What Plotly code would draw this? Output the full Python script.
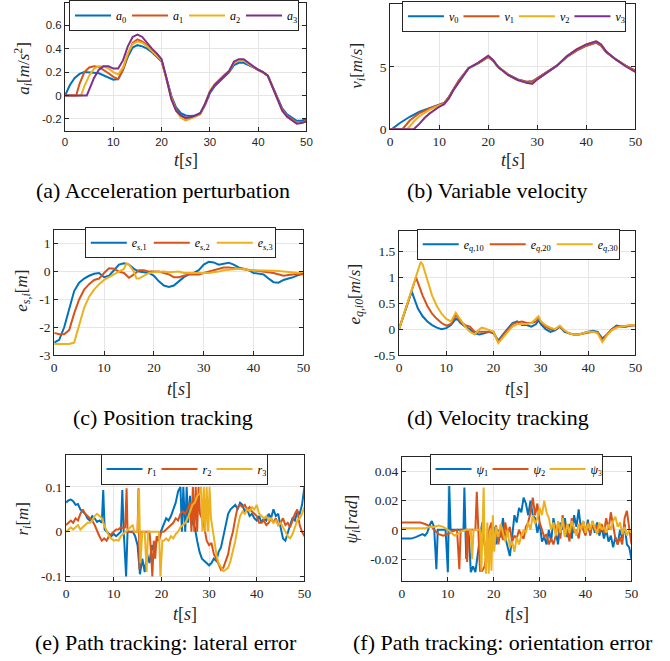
import plotly.graph_objects as go

W, H = 670, 661
C = ['#0072BD', '#D95319', '#EDB120', '#7E2F8E']

# ---------------- data (a) acceleration ----------------
A_T0 = [0,1,2,3,4,5,6,7,8,9,10,11,12,13,14,15,16,17,18,19,20,21,22,23,24,25,26,27,28,29,30,31,32,33,34,35,36,37,38,39,40,41,42,43,44,45,46,47,48,49,50]
A0 = [0,0.09,0.15,0.185,0.2,0.2,0.195,0.19,0.17,0.15,0.135,0.14,0.22,0.33,0.41,0.43,0.42,0.40,0.37,0.33,0.29,0.15,0.0,-0.1,-0.15,-0.17,-0.175,-0.17,-0.15,-0.08,0.02,0.08,0.12,0.16,0.2,0.26,0.28,0.28,0.26,0.24,0.22,0.2,0.17,0.08,-0.02,-0.11,-0.16,-0.19,-0.215,-0.215,-0.2]
A_T1 = [0,2.3,3,4,5,6,7,8,9,10,11,12,13,14,15,16,17,18,19,20,21,22,23,24,25,26,27,28,29,30,31,32,33,34,35,36,37,38,39,40,41,42,43,44,45,46,47,48,49,50]
A1 = [0,0,0.1,0.2,0.24,0.25,0.245,0.22,0.19,0.16,0.14,0.22,0.35,0.45,0.48,0.46,0.43,0.39,0.34,0.3,0.15,-0.01,-0.12,-0.17,-0.2,-0.19,-0.175,-0.16,-0.08,0.03,0.09,0.13,0.17,0.21,0.28,0.3,0.3,0.27,0.245,0.22,0.2,0.17,0.07,-0.03,-0.12,-0.17,-0.2,-0.23,-0.23,-0.215]
A_T2 = [0,3.3,4,5,6,7,8,9,10,11,12,13,14,15,16,17,18,19,20,21,22,23,24,25,26,27,28,29,30,31,32,33,34,35,36,37,38,39,40,41,42,43,44,45,46,47,48,49,50]
A2 = [0,0,0.08,0.17,0.23,0.25,0.25,0.23,0.2,0.18,0.24,0.36,0.44,0.46,0.45,0.42,0.38,0.34,0.3,0.14,-0.02,-0.13,-0.19,-0.215,-0.2,-0.18,-0.16,-0.07,0.04,0.1,0.14,0.18,0.21,0.28,0.3,0.3,0.27,0.245,0.22,0.2,0.17,0.07,-0.03,-0.13,-0.18,-0.21,-0.235,-0.235,-0.22]
A_T3 = [0,4.5,5,6,7,8,9,10,11,12,13,14,15,16,17,18,19,20,21,22,23,24,25,26,27,28,29,30,31,32,33,34,35,36,37,38,39,40,41,42,43,44,45,46,47,48,49,50]
A3 = [0,0,0.05,0.15,0.22,0.25,0.25,0.23,0.23,0.3,0.42,0.5,0.52,0.5,0.45,0.40,0.36,0.31,0.15,-0.03,-0.13,-0.17,-0.19,-0.185,-0.17,-0.15,-0.07,0.03,0.09,0.13,0.17,0.21,0.29,0.31,0.31,0.28,0.25,0.22,0.2,0.17,0.07,-0.03,-0.13,-0.18,-0.21,-0.24,-0.235,-0.22]

# ---------------- data (b) velocity ----------------
V_TAIL_T = [11,12,13,14,16,18,20,21,22,24,26,28,29,30,32,34,36,38,40,42,43,44,46,48,50]
V0_TAIL = [2.1,2.6,3.3,3.9,4.9,5.3,5.8,5.5,5.0,4.4,4.0,3.8,3.85,4.1,4.6,5.1,5.8,6.3,6.7,6.95,6.7,6.2,5.6,5.1,4.7]
V3_TAIL = [2.0,2.5,3.2,3.8,4.9,5.35,5.9,5.55,5.0,4.35,3.95,3.7,3.65,4.0,4.55,5.1,5.85,6.4,6.8,7.05,6.8,6.25,5.6,5.05,4.6]
V0_HEAD_T = [0,0.5,2,4,6,8,10]
V0_HEAD = [0,0.05,0.5,1.0,1.4,1.7,1.95]
V1_HEAD_T = [0,2.5,4,6,8,10]
V1_HEAD = [0,0,0.7,1.3,1.65,1.95]
V2_HEAD_T = [0,3.5,5,6,8,10]
V2_HEAD = [0,0,0.7,1.05,1.55,1.9]
V3_HEAD_T = [0,4.8,6,7,8,9,10]
V3_HEAD = [0,0,0.45,0.9,1.25,1.55,1.8]

# ---------------- data (c) position error ----------------
ES_T = list(range(0, 51))
ES1 = [-2.55,-2.45,-2.0,-1.3,-0.7,-0.4,-0.25,-0.15,-0.08,-0.05,-0.2,-0.15,0.05,0.25,0.3,0.25,0.1,0.0,-0.02,-0.05,-0.15,-0.35,-0.5,-0.55,-0.5,-0.35,-0.2,-0.1,-0.05,0.05,0.25,0.35,0.33,0.25,0.28,0.32,0.25,0.15,0.1,0.05,-0.05,-0.08,-0.1,-0.25,-0.38,-0.4,-0.3,-0.25,-0.2,-0.12,-0.08]
ES2 = [-2.2,-2.25,-2.25,-2.1,-1.5,-1.0,-0.65,-0.45,-0.3,-0.25,-0.05,0.12,0.1,0.0,-0.05,-0.22,-0.1,0.05,0.05,0.0,0.0,0.0,-0.05,-0.1,-0.2,-0.2,-0.15,-0.1,-0.1,-0.1,-0.05,0.0,0.05,0.1,0.15,0.15,0.13,0.1,0.1,0.08,0.05,0.02,0.0,-0.02,-0.05,-0.1,-0.15,-0.12,-0.1,-0.08,-0.1]
ES3_T = [0,1,2,3,4,5,6,7,8,9,10,11,12,13,14,14.5,15,16,16.5,17,18,19,20,21,22,23,24,25,26,27,28,29,30,31,32,33,34,35,36,37,38,39,40,41,42,43,44,45,46,47,48,49,50]
ES3 = [-2.6,-2.6,-2.6,-2.6,-2.55,-1.9,-1.3,-0.9,-0.65,-0.45,-0.3,-0.2,-0.1,0.0,0.1,0.3,0.25,0.0,-0.25,-0.25,-0.15,-0.05,-0.02,0.0,0.0,-0.02,0.0,0.0,-0.05,-0.05,-0.05,-0.05,-0.05,-0.05,-0.02,0.0,0.05,0.07,0.1,0.1,0.1,0.05,0.05,0.05,0.05,0.05,0.03,0.02,0.0,-0.03,-0.05,-0.05,0.0]

# ---------------- data (d) velocity error ----------------
EQ1_T = [0,2.7,3,4,5,6,7,8,9,10,11,12,12.5,13,14,15,16,17,18,19,20,21,22,23,24,25,26,27,28,29,29.5,30,31,32,33,34,35,36,37,38,39,40,41,42,43,44,45,46,47,48,49,50]
EQ1 = [0,0.73,0.65,0.4,0.25,0.15,0.08,0.03,0.0,0.02,0.08,0.2,0.18,0.12,0.05,0.0,-0.08,-0.1,-0.08,-0.05,-0.08,-0.22,-0.1,0.0,0.12,0.15,0.08,0.08,0.05,0.1,0.18,0.1,0.0,-0.05,-0.02,0.05,-0.05,-0.08,-0.1,-0.1,-0.07,-0.05,-0.03,-0.05,-0.18,-0.1,0.0,0.07,0.05,0.05,0.07,0.08]
EQ2_T = [0,3.6,4,5,6,7,8,9,10,11,12,13,14,15,16,17,18,19,20,21,22,23,24,25,26,27,28,29,29.5,30,31,32,33,34,35,36,37,38,39,40,41,42,43,44,45,46,47,48,49,50]
EQ2 = [0,1.0,0.9,0.65,0.45,0.3,0.2,0.12,0.07,0.1,0.28,0.15,0.08,0.05,-0.05,-0.05,-0.05,-0.05,-0.05,-0.25,-0.12,-0.02,0.1,0.13,0.15,0.12,0.12,0.15,0.22,0.15,0.05,0.0,0.0,0.05,-0.03,-0.08,-0.1,-0.1,-0.08,-0.06,-0.05,-0.06,-0.22,-0.1,0.0,0.05,0.05,0.06,0.07,0.07]
EQ3_T = [0,4.6,5,6,7,8,9,10,11,12,13,14,15,16,17,17.5,18,19,20,21,22,23,24,25,26,27,28,29,29.5,30,31,32,33,34,35,36,37,38,39,40,41,42,43,44,45,46,47,48,49,50]
EQ3 = [0,1.3,1.25,0.95,0.65,0.45,0.3,0.2,0.15,0.32,0.18,0.05,-0.05,-0.1,0.0,0.03,0.02,-0.02,-0.05,-0.27,-0.15,-0.05,0.05,0.1,0.1,0.1,0.12,0.2,0.25,0.15,0.08,0.03,0.0,0.07,-0.02,-0.08,-0.1,-0.1,-0.08,-0.05,-0.05,-0.08,-0.25,-0.12,-0.02,0.03,0.05,0.07,0.08,0.08]

# ---------------- data (e) lateral error (t, r) ----------------
R1_PTS = [(0,0.065),(0.5,0.07),(1,0.072),(1.5,0.068),(2,0.06),(2.5,0.062),(3,0.05),(3.5,0.045),(4,0.04),(4.5,0.03),(5,0.025),(5.5,0.035),(6,0.03),(6.5,0.022),(7,0.025),(7.5,0.02),(7.8,0.093),(8.1,0.005),(8.5,0.0),(9,-0.005),(9.5,-0.01),(10,-0.005),(10.5,-0.01),(11,-0.005),(11.5,0.0),(11.8,0.093),(12.1,0.0),(12.6,-0.1),(12.9,0.0),(13.5,0.0),(14,0.0),(14.5,-0.01),(15,-0.03),(15.5,-0.095),(16,-0.06),(16.5,-0.09),(17,-0.05),(17.5,-0.07),(18,-0.03),(18.5,-0.045),(19,-0.02),(19.5,-0.01),(20,0.005),(20.5,0.02),(21,0.03),(21.5,0.025),(22,0.035),(22.5,0.05),(23,0.065),(23.5,0.09),(24,0.1),(24.3,0.0),(24.6,0.1),(25,0.0),(25.3,0.1),(25.6,0.02),(26,0.08),(26.5,0.02),(27,0.01),(27.5,-0.02),(28,-0.045),(28.5,-0.06),(29,-0.065),(29.5,-0.07),(30,-0.075),(30.5,-0.07),(31,-0.06),(31.5,-0.065),(32,-0.045),(32.5,-0.035),(33,-0.01),(33.5,0.02),(34,0.04),(34.5,0.05),(35,0.055),(35.5,0.06),(36,0.05),(36.5,0.065),(37,0.06),(37.5,0.045),(38,0.05),(38.5,0.035),(39,0.04),(39.5,0.03),(40,0.025),(40.5,0.035),(41,0.02),(41.5,0.03),(42,0.025),(42.5,0.04),(43,0.03),(43.5,0.05),(44,0.035),(44.5,0.04),(45,0.01),(45.5,-0.015),(46,-0.02),(46.5,0.0),(47,0.015),(47.5,0.03),(48,0.025),(48.5,0.045),(49,0.04),(49.5,0.06),(50,0.1)]
R2_PTS = [(0,0.015),(0.5,0.02),(1,0.025),(1.5,0.02),(2,0.03),(2.5,0.025),(3,0.04),(3.5,0.05),(4,0.04),(4.5,0.035),(5,0.03),(5.5,0.025),(6,0.015),(6.5,0.0),(7,-0.01),(7.5,-0.02),(8,-0.015),(8.5,-0.02),(9,-0.01),(9.5,-0.005),(10,0.0),(10.5,0.005),(11,0.005),(11.5,0.01),(12,0.008),(12.4,0.01),(12.7,0.097),(12.9,0.0),(13.5,0.0),(14,0.0),(14.5,0.0),(15,0.0),(15.2,0.097),(15.4,-0.083),(15.6,0.0),(16,0.0),(16.5,0.0),(17,0.0),(17.5,0.0),(17.8,-0.04),(18.1,-0.1),(18.4,-0.02),(18.7,-0.06),(19,-0.01),(19.5,-0.02),(20,0.0),(20.5,0.0),(21,0.005),(21.5,0.01),(22,0.015),(22.5,0.02),(23,0.03),(23.5,0.025),(24,0.04),(24.5,0.045),(25,0.04),(25.5,0.05),(26,0.065),(26.3,0.0),(26.6,0.1),(26.9,0.0),(27.2,0.1),(27.5,0.0),(27.8,0.1),(28.1,0.04),(28.5,0.03),(29,0.01),(29.5,-0.02),(30,-0.03),(30.5,-0.025),(31,-0.05),(31.5,-0.06),(32,-0.075),(32.5,-0.085),(33,-0.08),(33.5,-0.065),(34,-0.05),(34.5,-0.02),(35,0.0),(35.5,0.03),(36,0.055),(36.5,0.06),(37,0.055),(37.5,0.06),(38,0.05),(38.5,0.055),(39,0.045),(39.5,0.04),(40,0.035),(40.5,0.02),(41,0.02),(41.5,0.025),(42,0.015),(42.5,0.02),(43,0.03),(43.5,0.02),(44,0.03),(44.5,0.015),(45,0.02),(45.5,0.03),(46,0.015),(46.5,0.02),(47,0.01),(47.5,0.025),(48,0.04),(48.5,0.05),(49,0.015),(49.5,0.0),(50,-0.01)]
R3_PTS = [(0,0.0),(0.5,0.005),(1,0.01),(1.5,0.005),(2,0.01),(2.5,0.015),(3,0.005),(3.5,0.01),(4,0.015),(4.5,0.02),(5,0.02),(5.5,0.025),(6,0.035),(6.5,0.04),(7,0.035),(7.5,0.03),(8,0.015),(8.5,0.0),(9,-0.01),(9.5,-0.015),(10,-0.02),(10.5,-0.018),(11,-0.02),(11.5,-0.01),(12,-0.005),(12.5,0.0),(13,0.005),(13.5,0.01),(14,0.015),(14.3,0.0),(15,0.0),(15.3,0.095),(15.6,-0.07),(16,0.0),(16.5,0.0),(16.9,-0.09),(17.2,0.0),(17.5,0.0),(18,0.0),(18.5,0.0),(19,0.0),(19.5,0.0),(19.8,-0.1),(20.2,-0.02),(20.5,-0.02),(21,-0.015),(21.5,-0.02),(22,-0.01),(22.5,-0.015),(23,-0.005),(23.5,0.0),(24,0.01),(24.5,0.015),(25,0.02),(25.5,0.03),(26,0.045),(26.5,0.06),(27,0.065),(27.5,0.08),(28,0.085),(28.3,0.1),(28.6,0.0),(28.9,0.1),(29.2,0.0),(29.5,0.1),(29.8,0.0),(30.1,0.1),(30.4,0.03),(30.8,0.0),(31.2,-0.03),(31.6,-0.055),(32,-0.07),(32.5,-0.08),(33,-0.088),(33.5,-0.085),(34,-0.08),(34.5,-0.065),(35,-0.045),(35.5,-0.02),(36,0.01),(36.5,0.035),(37,0.045),(37.5,0.04),(38,0.05),(38.5,0.045),(39,0.055),(39.5,0.05),(40,0.06),(40.5,0.04),(41,0.035),(41.5,0.03),(42,0.035),(42.5,0.025),(43,0.03),(43.5,0.02),(44,0.025),(44.5,0.015),(45,0.02),(45.5,0.01),(46,0.0),(46.5,-0.01),(47,-0.015),(47.5,-0.005),(48,0.01),(48.5,0.025),(49,0.03),(49.5,0.04),(50,0.055)]

# ---------------- data (f) orientation error (t, psi) ----------------
P1_PTS = [(0,-0.006),(1,-0.006),(2,-0.006),(3,-0.005),(4,-0.004),(4.5,-0.003),(5,-0.004),(5.5,-0.002),(6,0.003),(6.5,0.006),(7,0.002),(7.5,-0.027),(7.8,0.0),(8.5,0.0),(9,0.0),(9.5,0.0),(10,-0.029),(10.3,0.03),(10.6,0.0),(11,0.0),(12,0.0),(13,0.0),(13.4,0.0),(13.6,0.029),(14,-0.02),(14.3,0.0),(14.6,-0.005),(15,-0.029),(15.5,-0.025),(16,-0.029),(16.5,-0.015),(17,-0.005),(17.5,0.005),(18,-0.01),(18.5,-0.02),(19,0.0),(19.5,-0.005),(20,0.002),(20.5,-0.01),(21,0.0),(21.5,-0.005),(22,0.008),(22.5,-0.005),(23,-0.012),(23.5,-0.018),(24,-0.005),(24.5,0.01),(25,0.005),(25.5,0.015),(26,0.012),(26.5,0.022),(27,0.018),(27.5,0.01),(28,0.02),(28.5,0.01),(29,0.008),(29.5,-0.002),(30,0.005),(30.5,-0.008),(31,-0.005),(31.5,-0.01),(32,0.0),(32.5,-0.008),(33,0.008),(33.5,-0.002),(34,-0.01),(34.5,0.005),(35,0.0),(35.5,0.008),(36,-0.005),(36.5,0.004),(37,-0.006),(37.5,0.01),(38,0.002),(38.5,0.014),(39,0.0),(39.5,0.006),(40,-0.003),(40.5,0.007),(41,-0.004),(41.5,0.006),(42,-0.002),(42.5,0.005),(43,-0.004),(43.5,0.002),(44,-0.006),(44.5,0.0),(45,-0.008),(45.5,-0.004),(46,-0.012),(46.5,-0.005),(47,-0.01),(47.5,0.0),(48,-0.006),(48.5,0.004),(49,-0.01),(49.5,-0.012),(50,-0.02)]
P2_PTS = [(0,0.005),(1,0.005),(2,0.005),(3,0.005),(4,0.005),(5,0.004),(6,0.003),(6.5,0.002),(7,0.0),(8,-0.003),(9,-0.004),(10,-0.003),(11,-0.001),(12,0.0),(12.5,-0.027),(12.8,0.0),(13.5,0.0),(14,0.0),(14.2,-0.022),(14.5,0.0),(15.5,0.0),(16,0.0),(16.3,0.026),(16.6,0.0),(17,-0.028),(17.5,-0.028),(18,-0.025),(18.5,-0.015),(19,0.0),(19.5,0.005),(20,-0.01),(20.5,0.003),(21,-0.01),(21.5,0.0),(22,-0.007),(22.5,0.005),(23,-0.003),(23.5,0.002),(24,-0.008),(24.5,-0.004),(25,-0.006),(25.5,0.0),(26,-0.004),(26.5,-0.006),(27,0.002),(27.5,0.005),(28,0.012),(28.5,0.022),(29,0.01),(29.5,0.018),(30,0.005),(30.5,0.0),(31,-0.005),(31.5,-0.003),(32,-0.01),(32.5,-0.006),(33,-0.01),(33.5,-0.004),(34,0.004),(34.5,-0.006),(35,0.01),(35.5,-0.004),(36,0.0),(36.5,-0.008),(37,0.008),(37.5,-0.002),(38,0.0),(38.5,-0.006),(39,0.004),(39.5,0.0),(40,-0.004),(40.5,0.005),(41,-0.003),(41.5,0.004),(42,0.0),(42.5,0.003),(43,-0.002),(43.5,0.004),(44,-0.002),(44.5,0.008),(45,0.0),(45.5,0.012),(46,0.002),(46.5,-0.006),(47,-0.01),(47.5,-0.005),(48,-0.01),(48.5,0.008),(49,0.013),(49.5,0.0),(50,-0.01)]
P3_PTS = [(0,0.001),(2,0.001),(4,0.001),(5,0.001),(6,0.002),(7,0.002),(8,0.003),(9,0.002),(10,0.0),(11,-0.003),(11.5,-0.004),(12,-0.003),(13,-0.001),(14,0.0),(15,0.0),(15.3,-0.02),(15.6,0.0),(16,0.0),(16.5,0.0),(17,0.0),(17.3,-0.028),(17.6,0.0),(17.8,0.029),(18,-0.01),(18.3,-0.03),(18.6,0.005),(18.9,-0.03),(19.2,0.0),(19.5,-0.028),(19.8,0.01),(20.1,-0.015),(20.5,0.002),(21,-0.005),(21.5,0.004),(22,-0.002),(22.5,-0.008),(23,0.0),(23.5,-0.012),(24,-0.008),(24.5,-0.015),(25,-0.005),(25.5,-0.01),(26,-0.004),(26.5,0.0),(27,-0.002),(27.5,0.005),(28,0.0),(28.5,0.01),(29,0.004),(29.5,0.008),(30,0.015),(30.5,0.01),(31,0.02),(31.5,0.012),(32,0.008),(32.5,0.0),(33,0.005),(33.5,-0.004),(34,0.006),(34.5,-0.002),(35,0.008),(35.5,-0.005),(36,0.004),(36.5,-0.002),(37,0.006),(37.5,0.0),(38,-0.004),(38.5,0.004),(39,0.0),(39.5,0.006),(40,-0.002),(40.5,0.004),(41,0.0),(41.5,0.006),(42,0.002),(42.5,-0.003),(43,0.005),(43.5,0.0),(44,0.002),(44.5,-0.002),(45,0.004),(45.5,0.0),(46,0.006),(46.5,0.009),(47,0.002),(47.5,0.005),(48,-0.003),(48.5,0.002),(49,-0.004),(49.5,0.0),(50,-0.002)]

X_TICKS = [0, 10, 20, 30, 40, 50]

# ---------------- layout helpers ----------------
SANS = 'Liberation Sans'
SERIF = 'Liberation Serif'
AX = '#262626'

def px(x):
    return x / W

def py(y):
    return 1 - y / H

fig = go.Figure()

panels = [
    dict(x=(63, 308), y=(2, 131.5), yr=[-0.3, 0.79], yt=[-0.2, 0, 0.2, 0.4, 0.6], ytt=['-0.2', '0', '0.2', '0.4', '0.6'], font=SANS, fs=11.5),
    dict(x=(393, 642), y=(3, 130), yr=[0, 10.05], yt=[0, 5, 10], ytt=['0', '5', '10'], font=SERIF, fs=13.5),
    dict(x=(52, 305), y=(232, 359), yr=[-3, 1.5], yt=[-3, -2, -1, 0, 1], ytt=['-3', '-2', '-1', '0', '1'], font=SERIF, fs=13.5),
    dict(x=(402, 642), y=(233, 359), yr=[-0.5, 1.9], yt=[-0.5, 0, 0.5, 1, 1.5], ytt=['-0.5', '0', '0.5', '1', '1.5'], font=SERIF, fs=13.5),
    dict(x=(64, 306), y=(460, 588), yr=[-0.11, 0.172], yt=[-0.1, 0, 0.1], ytt=['-0.1', '0', '0.1'], font=SERIF, fs=13.5),
    dict(x=(405, 638), y=(462, 588), yr=[-0.035, 0.05], yt=[-0.02, 0, 0.02, 0.04], ytt=['-0.02', '0', '0.02', '0.04'], font=SERIF, fs=13.5),
]

for i, p in enumerate(panels):
    k = '' if i == 0 else str(i + 1)
    common = dict(showline=True, mirror='ticks', linecolor=AX, linewidth=1,
                  ticks='inside', ticklen=4, tickcolor=AX, tickwidth=1,
                  showgrid=True, gridcolor='#e6e6e6', gridwidth=1, zeroline=False,
                  tickfont=dict(family=p['font'], size=p['fs'], color=AX))
    fig.layout['xaxis' + k] = dict(domain=[px(p['x'][0]), px(p['x'][1])], anchor='y' + k,
                                   range=[0, 50], tickvals=X_TICKS,
                                   ticktext=[str(v) for v in X_TICKS], **common)
    fig.layout['yaxis' + k] = dict(domain=[py(p['y'][1]), py(p['y'][0])], anchor='x' + k,
                                   range=p['yr'], tickvals=p['yt'], ticktext=p['ytt'], **common)

def add(xs, ys, name, color, idx):
    k = '' if idx == 0 else str(idx + 1)
    fig.add_trace(go.Scatter(x=list(xs), y=list(ys), mode='lines', name=name,
                             line=dict(color=color, width=2),
                             xaxis='x' + k, yaxis='y' + k,
                             legend='legend' if idx == 0 else 'legend' + str(idx + 1)))

# (a)
add(A_T0, A0, '<i>a</i><sub>0</sub>', C[0], 0)
add(A_T1, A1, '<i>a</i><sub>1</sub>', C[1], 0)
add(A_T2, A2, '<i>a</i><sub>2</sub>', C[2], 0)
add(A_T3, A3, '<i>a</i><sub>3</sub>', C[3], 0)
# (b)
add(V0_HEAD_T + V_TAIL_T, V0_HEAD + V0_TAIL, '<i>v</i><sub>0</sub>', C[0], 1)
add(V1_HEAD_T + V_TAIL_T, V1_HEAD + V0_TAIL, '<i>v</i><sub>1</sub>', C[1], 1)
add(V2_HEAD_T + V_TAIL_T, V2_HEAD + V3_TAIL, '<i>v</i><sub>2</sub>', C[2], 1)
add(V3_HEAD_T + V_TAIL_T, V3_HEAD + V3_TAIL, '<i>v</i><sub>3</sub>', C[3], 1)
# (c)
add(ES_T, ES1, '<i>e</i><sub><i>s</i>,1</sub>', C[0], 2)
add(ES_T, ES2, '<i>e</i><sub><i>s</i>,2</sub>', C[1], 2)
add(ES3_T, ES3, '<i>e</i><sub><i>s</i>,3</sub>', C[2], 2)
# (d)
add(EQ1_T, EQ1, '<i>e</i><sub><i>q</i>,10</sub>', C[0], 3)
add(EQ2_T, EQ2, '<i>e</i><sub><i>q</i>,20</sub>', C[1], 3)
add(EQ3_T, EQ3, '<i>e</i><sub><i>q</i>,30</sub>', C[2], 3)
# (e)
for pts, nm, c in [(R1_PTS, '<i>r</i><sub>1</sub>', C[0]), (R2_PTS, '<i>r</i><sub>2</sub>', C[1]), (R3_PTS, '<i>r</i><sub>3</sub>', C[2])]:
    t, v = zip(*pts)
    add(t, v, nm, c, 4)
# (f)
for pts, nm, c in [(P1_PTS, '<i>ψ</i><sub>1</sub>', C[0]), (P2_PTS, '<i>ψ</i><sub>2</sub>', C[1]), (P3_PTS, '<i>ψ</i><sub>3</sub>', C[2])]:
    t, v = zip(*pts)
    add(t, v, nm, c, 5)

# legends: (left px, vertical centre px, entry spacing px)
IW = 36
leg_pos = [(67, 14.5, 59), (405, 15.5, 57.5), (83, 245, 65), (420, 246.5, 69), (99, 474.5, 57), (433, 474.5, 59)]
for i, (lx, ly, ew) in enumerate(leg_pos):
    key = 'legend' if i == 0 else 'legend' + str(i + 1)
    fig.layout[key] = dict(x=px(lx), y=py(ly), xanchor='left', yanchor='middle',
                           orientation='h', bgcolor='white', bordercolor=AX, borderwidth=1,
                           font=dict(family=SERIF, size=12, color='black'),
                           itemwidth=IW, entrywidth=max(ew - IW - 17, 1), entrywidthmode='pixels',
                           tracegroupgap=0, itemclick=False)

ann = []
ylabels = [
    ('<i>a<sub>i</sub></i>[<i>m</i>/<i>s</i><sup>2</sup>]', 20, 68),
    ('<i>v<sub>i</sub></i>[<i>m</i>/<i>s</i>]', 360, 66),
    ('<i>e<sub>s,i</sub></i>[<i>m</i>]', 20, 294),
    ('<i>e<sub>q,i0</sub></i>[<i>m</i>/<i>s</i>]', 358, 297),
    ('<i>r<sub>i</sub></i>[<i>m</i>]', 21, 525),
    ('<i>ψ<sub>i</sub></i>[<i>rad</i>]', 355, 525),
]
for txt, x, y in ylabels:
    ann.append(dict(text=txt, x=px(x), y=py(y), xref='paper', yref='paper', textangle=-90,
                    showarrow=False, xanchor='center', yanchor='middle',
                    font=dict(family=SERIF, size=17, color=AX)))
for p, ylab in zip(panels, [161, 161, 393, 393, 621, 621]):
    xc = (p['x'][0] + p['x'][1]) / 2
    ann.append(dict(text='<i>t</i>[<i>s</i>]', x=px(xc), y=py(ylab), xref='paper', yref='paper',
                    showarrow=False, xanchor='center', yanchor='middle',
                    font=dict(family=SERIF, size=18, color=AX)))
captions = [
    ('(a) Acceleration perturbation', 162, 192),
    ('(b) Variable velocity', 501, 192),
    ('(c) Position tracking', 162, 422),
    ('(d) Velocity tracking', 502, 422),
    ('(e) Path tracking: lateral error', 165, 650),
    ('(f) Path tracking: orientation error', 508, 650),
]
for txt, x, y in captions:
    ann.append(dict(text=txt, x=px(x), y=py(y), xref='paper', yref='paper',
                    showarrow=False, xanchor='center', yanchor='middle',
                    font=dict(family=SERIF, size=22, color='black')))

fig.update_layout(width=W, height=H, margin=dict(l=0, r=0, t=0, b=0),
                  paper_bgcolor='white', plot_bgcolor='white', annotations=ann,
                  showlegend=True)

POST = ("var s=document.createElement('style');"
        "s.textContent='html,body{margin:0;padding:0;overflow:hidden;}';"
        "document.head.appendChild(s);")
fig.write_html('out.html', config={'displayModeBar': False}, post_script=POST)
